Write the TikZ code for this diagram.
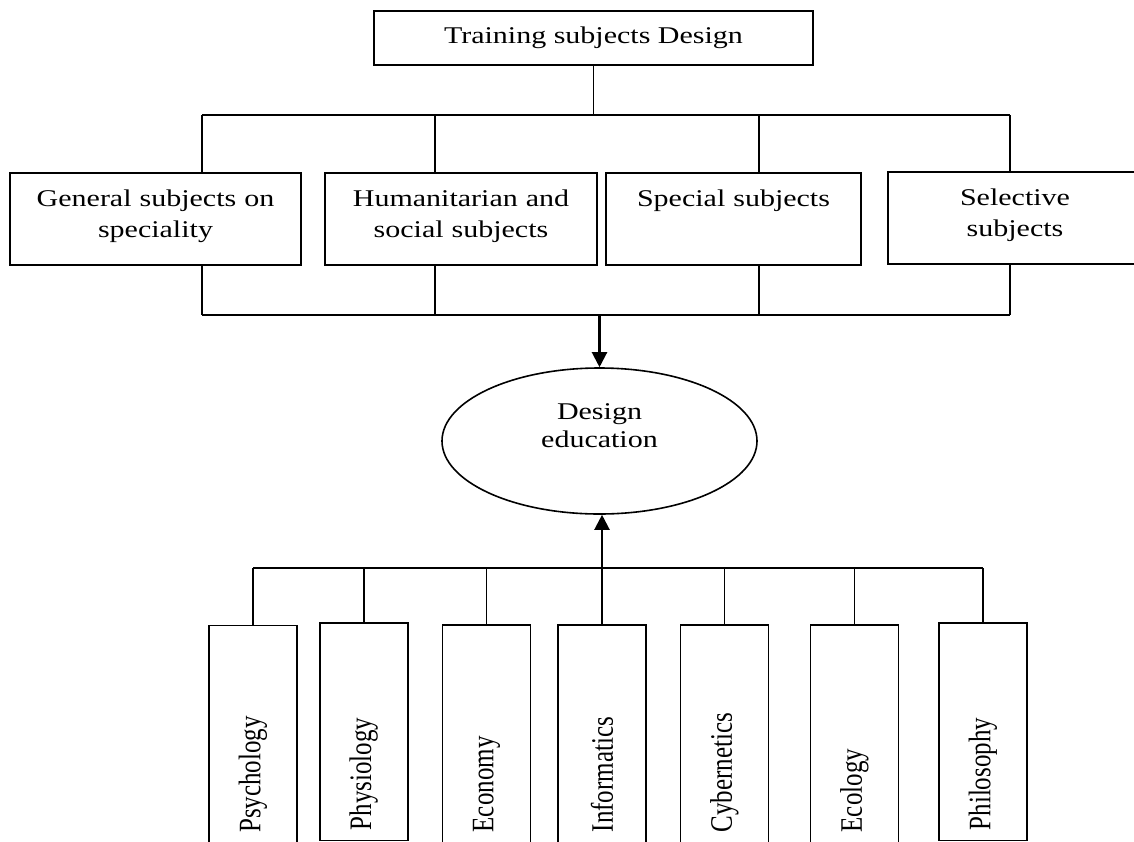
\documentclass[tikz,border=0pt]{standalone}
\usepackage{fontspec}
\setmainfont{Liberation Serif}[FakeStretch=1.25]
\newfontfamily\rotfont{Liberation Serif}
\usetikzlibrary{arrows.meta,shapes.geometric}

\begin{document}
\begin{tikzpicture}[x=1pt,y=-1pt,line width=1.6pt,
  font=\fontsize{24}{31}\selectfont,
  topbox/.style={draw,anchor=north,inner sep=0pt,minimum height=54pt},
  subjbox/.style={draw,anchor=north,align=center,inner xsep=0pt,inner ysep=8pt,
    text height=26pt,text depth=50pt},
  disc/.style={draw,rotate=90,anchor=east,minimum height=88pt,inner xsep=10pt,
    inner ysep=0pt,text width=197.5pt,align=left,
    font=\rotfont\fontsize{25}{30}\selectfont},
  arr/.style={line width=2.2pt,-{Triangle[length=15pt,width=15pt]}}]
\useasboundingbox (0,0) rectangle (1134,841);
\clip (0,0) rectangle (1134,841);

\node[topbox,minimum width=439pt] (top) at (593.5,10) {Training subjects Design};

\node[subjbox,text width=291pt] (gen) at (155.5,172) {General subjects on\\speciality};
\node[subjbox,text width=272pt] (hum) at (461,172) {Humanitarian and\\social subjects};
\node[subjbox,text width=255pt] (spe) at (733.5,172) {Special subjects};
\node[subjbox,text width=254pt] (sel) at (1015,171) {Selective\\subjects};

\node[draw,ellipse,inner sep=0pt,minimum width=315pt,minimum height=146pt,
  text width=200pt,align=center,text height=16pt,text depth=59pt,
  font=\fontsize{24}{28}\selectfont] (edu) at (599.5,441) {Design\\education};

\node[disc] (psy) at (253,624.5) {\scalebox{1}[1.25]{Psychology}};
\node[disc] (phy) at (363.75,622) {\scalebox{1}[1.25]{Physiology}};
\node[disc] (eco) at (486.5,624) {\scalebox{1}[1.25]{Economy}};
\node[disc] (inf) at (602,624) {\scalebox{1}[1.25]{Informatics}};
\node[disc] (cyb) at (724.5,624) {\scalebox{1}[1.25]{Cybernetics}};
\node[disc] (ecl) at (854.5,624) {\scalebox{1}[1.25]{Ecology}};
\node[disc] (phi) at (983,622) {\scalebox{1}[1.25]{Philosophy}};

\coordinate (t1) at (202,115);
\coordinate (t2) at (435,115);
\coordinate (t3) at (759,115);
\coordinate (t4) at (1010,115);
\coordinate (b1) at (202,315);
\coordinate (b2) at (435,315);
\coordinate (b3) at (759,315);
\coordinate (b4) at (1010,315);
\coordinate (lbus) at (602,568);

\draw (top.south) -- (top.south |- t1);
\draw (t1) -- (t4);
\foreach \i/\n in {1/gen,2/hum,3/spe,4/sel}{
  \draw (t\i) -- (t\i |- \n.north);
  \draw (b\i |- \n.south) -- (b\i);
}
\draw[line width=2.2pt] (b1) -- (b4);
\draw[arr] (edu.north |- b1) -- (edu.north);

\foreach \n in {psy,phy,eco,inf,cyb,ecl,phi}
  \draw (\n.east) -- (\n.east |- lbus);
\draw (psy.east |- lbus) -- (phi.east |- lbus);
\draw[arr] (lbus) -- (lbus |- edu.south);
\end{tikzpicture}
\end{document}
